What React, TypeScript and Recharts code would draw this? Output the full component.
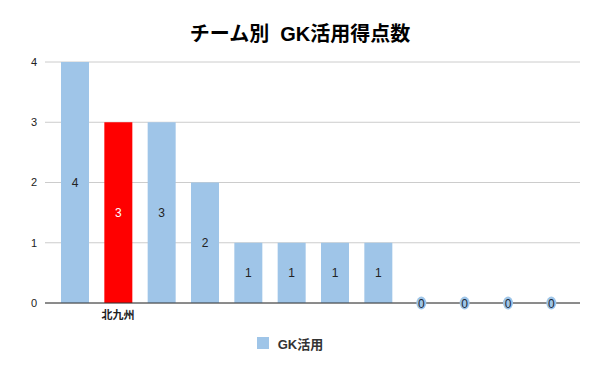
import React from "react";
import { ComposedChart, Bar, Line, XAxis, YAxis, CartesianGrid, Legend, Cell, LabelList } from "recharts";

// team labels: only 北九州 is shown on the axis in the original
const teams = ["", "北九州", "", "", "", "", "", "", "", "", "", ""];
const gkGoals = [4, 3, 3, 2, 1, 1, 1, 1, 0, 0, 0, 0];
const highlightTeam = "北九州";
const yTicks = [0, 1, 2, 3, 4];

const BLUE = "#9fc5e8";
const RED = "#ff0000";
const FONT = "Arial, 'Liberation Sans', 'Noto Sans CJK JP', sans-serif";

const data = teams.map((t, i) => ({ team: t, value: gkGoals[i] }));

const BarLabel = (props: any) => {
  const { x, y, width, height, value, index } = props;
  if (!value) return null;
  const isRed = teams[index] === highlightTeam;
  return (
    <text
      x={x + width / 2}
      y={y + height / 2}
      dy={4.5}
      textAnchor="middle"
      fontSize={12}
      fill={isRed ? "#ffffff" : "#222222"}
      fontFamily={FONT}
    >
      {value}
    </text>
  );
};

// zero-height bars still get their "0" label in the original
const ZeroDot = (props: any) => {
  const { cx, cy, payload, index } = props;
  if (payload.value !== 0) return <g key={index} />;
  return (
    <g key={index}>
      <ellipse cx={cx} cy={cy} rx={5} ry={6.5} fill={BLUE} />
      <text x={cx} y={cy} dy={4.5} textAnchor="middle" fontSize={12} fill="#1a2a3a" fontFamily={FONT}>
        0
      </text>
    </g>
  );
};

const LegendBox = () => (
  <div style={{ display: "flex", justifyContent: "center", alignItems: "center", height: 20, fontFamily: FONT }}>
    <span style={{ display: "inline-block", width: 12, height: 12, background: BLUE, marginRight: 9 }} />
    <span style={{ fontSize: 13, fontWeight: "bold", color: "#333" }}>GK活用</span>
  </div>
);

export default function App() {
  return (
    <div style={{ position: "relative", width: 600, height: 371, background: "#fff" }}>
      <style>{"body{margin:0}"}</style>
      <div
        style={{
          position: "absolute",
          top: 18,
          left: 0,
          width: 600,
          textAlign: "center",
          fontFamily: FONT,
          fontWeight: "bold",
          fontSize: 20,
          color: "#000",
          whiteSpace: "pre",
        }}
      >
        {"チーム別  GK活用得点数"}
      </div>
      <ComposedChart width={600} height={371} data={data} margin={{ top: 62, right: 20, bottom: 18, left: 0 }}>
        <CartesianGrid vertical={false} stroke="#cccccc" />
        <XAxis
          dataKey="team"
          height={30}
          padding={{ left: 8, right: 7 }}
          stroke="#333333"
          tickLine={false}
          interval={0}
          tick={{ fontSize: 11, fontWeight: "bold", fill: "#222", fontFamily: FONT }}
        />
        <YAxis
          width={45}
          domain={[0, 4]}
          ticks={yTicks}
          axisLine={false}
          tickLine={false}
          tick={{ fontSize: 11, fill: "#222", fontFamily: FONT }}
        />
        <Legend verticalAlign="bottom" content={<LegendBox />} />
        <Bar dataKey="value" name="GK活用" fill={BLUE} barSize={28} isAnimationActive={false}>
          {data.map((d, i) => (
            <Cell key={i} fill={d.team === highlightTeam ? RED : BLUE} />
          ))}
          <LabelList dataKey="value" content={<BarLabel />} />
        </Bar>
        <Line
          dataKey="value"
          stroke="none"
          dot={ZeroDot}
          activeDot={false}
          legendType="none"
          isAnimationActive={false}
        />
      </ComposedChart>
    </div>
  );
}
